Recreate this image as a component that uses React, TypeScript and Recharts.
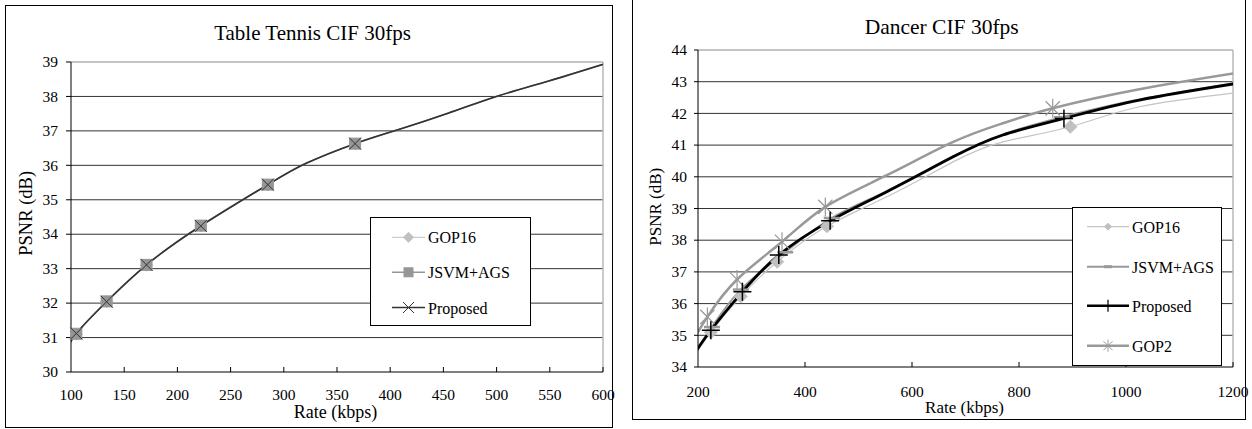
import React from 'react';
import { LineChart, Line, XAxis, YAxis, ReferenceLine } from 'recharts';

// ---------- Table Tennis CIF 30fps ----------
const ttRates = [93, 105, 133.5, 171, 222, 285, 321, 367, 408, 455, 502, 549, 607];
const ttGop16 = [30.49, 31.1, 32.04, 33.1, 34.24, 35.43, 36.06, 36.62, 37.04, 37.52, 38.02, 38.45, 39.0];
const ttJsvm = [30.49, 31.11, 32.05, 33.11, 34.25, 35.44, 36.06, 36.63, 37.04, 37.52, 38.02, 38.45, 39.0];
const ttProposed = [30.49, 31.12, 32.04, 33.11, 34.24, 35.44, 36.06, 36.63, 37.04, 37.52, 38.02, 38.45, 39.0];
const ttMarked = [0, 1, 1, 1, 1, 1, 0, 1, 0, 0, 0, 0, 0];
const ttXTicks = [100, 150, 200, 250, 300, 350, 400, 450, 500, 550, 600];
const ttYTicks = [30, 31, 32, 33, 34, 35, 36, 37, 38, 39];

// ---------- Dancer CIF 30fps ----------
const dcGop16Rates = [183, 224, 280, 348, 441, 553, 677, 770, 896, 1025, 1220];
const dcGop16 = [34.1, 35.1, 36.23, 37.32, 38.44, 39.37, 40.47, 41.1, 41.58, 42.21, 42.68];
const dcGop16Marked = [0, 1, 1, 1, 1, 0, 0, 0, 1, 0, 0];
const dcJsvmRates = [183, 226, 280, 363, 450, 553, 677, 770, 880, 1025, 1220];
const dcJsvm = [34.2, 35.26, 36.44, 37.62, 38.7, 39.55, 40.65, 41.34, 41.88, 42.44, 43.0];
const dcJsvmMarked = [0, 1, 1, 1, 1, 0, 0, 0, 1, 0, 0];
const dcProposedRates = [183, 224, 283, 351, 447, 553, 677, 770, 884, 1025, 1220];
const dcProposed = [34.16, 35.16, 36.37, 37.53, 38.61, 39.53, 40.63, 41.32, 41.84, 42.42, 42.98];
const dcProposedMarked = [0, 1, 1, 1, 1, 0, 0, 0, 1, 0, 0];
const dcGop2Rates = [183, 217.5, 273, 357, 438, 553, 677, 770, 863, 1025, 1220];
const dcGop2 = [34.63, 35.58, 36.76, 37.95, 39.05, 40.05, 41.1, 41.69, 42.16, 42.76, 43.31];
const dcGop2Marked = [0, 1, 1, 1, 1, 0, 0, 0, 1, 0, 0];
const dcXTicks = [200, 400, 600, 800, 1000, 1200];
const dcYTicks = [34, 35, 36, 37, 38, 39, 40, 41, 42, 43, 44];

const FONT = '"Liberation Serif", "Times New Roman", serif';

type Pt = { x: number; y: number; m: number };
const build = (rates: number[], vals: number[], marked: number[]): Pt[] =>
  rates.map((r, i) => ({ x: r, y: vals[i], m: marked[i] }));

type Kind = 'diamond' | 'square' | 'x' | 'plus' | 'star' | 'dash';

function Marker({ kind, cx, cy, s, fill, stroke, sw }: { kind: Kind; cx: number; cy: number; s: number; fill: string; stroke: string; sw: number }) {
  switch (kind) {
    case 'diamond':
      return <polygon points={`${cx},${cy - s} ${cx + s},${cy} ${cx},${cy + s} ${cx - s},${cy}`} fill={fill} stroke={stroke} strokeWidth={sw} />;
    case 'square':
      return <rect x={cx - s} y={cy - s} width={2 * s} height={2 * s} fill={fill} stroke={stroke} strokeWidth={sw} />;
    case 'x':
      return <path d={`M${cx - s},${cy - s}L${cx + s},${cy + s}M${cx - s},${cy + s}L${cx + s},${cy - s}`} stroke={stroke} strokeWidth={sw} fill="none" />;
    case 'plus':
      return <path d={`M${cx - s},${cy}L${cx + s},${cy}M${cx},${cy - s}L${cx},${cy + s}`} stroke={stroke} strokeWidth={sw} fill="none" />;
    case 'star': {
      const d = s * 0.75;
      return <path d={`M${cx - d},${cy - d}L${cx + d},${cy + d}M${cx - d},${cy + d}L${cx + d},${cy - d}M${cx},${cy - s}L${cx},${cy + s}`} stroke={stroke} strokeWidth={sw} fill="none" />;
    }
    case 'dash':
      return <path d={`M${cx - s},${cy}L${cx + s},${cy}`} stroke={stroke} strokeWidth={sw} fill="none" />;
  }
  return null;
}

const dotFn = (kind: Kind, s: number, fill: string, stroke: string, sw: number) => (p: any) =>
  p && p.payload && p.payload.m ? (
    <Marker key={`d${p.index}`} kind={kind} cx={p.cx} cy={p.cy} s={s} fill={fill} stroke={stroke} sw={sw} />
  ) : (
    <g key={`d${p.index}`} />
  );

const BottomTick = (props: any) => {
  const { x, y, payload, fs, dyText, first } = props;
  return (
    <g>
      {!first && <line x1={x} y1={y} x2={x} y2={y - 5} stroke="#000" strokeWidth={1} />}
      <text x={x} y={y + dyText} textAnchor="middle" fontSize={fs} fontFamily={FONT} fill="#000">
        {payload.value}
      </text>
    </g>
  );
};

const LeftTick = (props: any) => {
  const { x, y, payload, fs } = props;
  return (
    <text x={x} y={y + fs * 0.34} textAnchor="end" fontSize={fs} fontFamily={FONT} fill="#000">
      {payload.value}
    </text>
  );
};

function LegendRow({ x1, x2, y, kind, s, color, lineW, markFill, markStroke, markSw, label, fs }: any) {
  const cx = (x1 + x2) / 2;
  return (
    <g>
      <line x1={x1} y1={y} x2={x2} y2={y} stroke={color} strokeWidth={lineW} />
      <Marker kind={kind} cx={cx} cy={y} s={s} fill={markFill} stroke={markStroke} sw={markSw} />
      <text x={x2 + 3} y={y + 6} fontSize={fs} fontFamily={FONT} fill="#000">{label}</text>
    </g>
  );
}

export default function App() {
  const ttG = build(ttRates, ttGop16, ttMarked);
  const ttJ = build(ttRates, ttJsvm, ttMarked);
  const ttP = build(ttRates, ttProposed, ttMarked);

  const dcG16 = build(dcGop16Rates, dcGop16, dcGop16Marked);
  const dcJ = build(dcJsvmRates, dcJsvm, dcJsvmMarked);
  const dcP = build(dcProposedRates, dcProposed, dcProposedMarked);
  const dcG2 = build(dcGop2Rates, dcGop2, dcGop2Marked);

  return (
    <div style={{ position: 'absolute', left: 0, top: 0, width: 1252, height: 429, background: '#fff', fontFamily: FONT, overflow: 'hidden' }}>
      <style>{`.noclip g[clip-path]{clip-path:none !important;} .noclip svg{overflow:visible !important;} .noclip text{font-family:${FONT};}`}</style>

      {/* Left chart */}
      <div className="noclip" style={{ position: 'absolute', left: 5, top: 5 }}>
        <LineChart width={608} height={423} margin={{ top: 57, right: 10, bottom: 0, left: 0 }}>
          <XAxis
            type="number"
            dataKey="x"
            domain={[100, 600]}
            ticks={ttXTicks}
            allowDataOverflow
            height={56}
            axisLine={{ stroke: '#000', strokeWidth: 1 }}
            tickLine={false}
            tickSize={0}
            tickMargin={0}
            interval={0}
            tick={(p: any) => <BottomTick {...p} fs={15.5} dyText={28.2} first={p.payload.value === 100} />}
          />
          <YAxis
            type="number"
            dataKey="y"
            domain={[30, 39]}
            ticks={ttYTicks}
            allowDataOverflow
            width={66}
            axisLine={{ stroke: '#000', strokeWidth: 1 }}
            tickLine={{ stroke: '#000' }}
            tickSize={5}
            tickMargin={8}
            interval={0}
            tick={(p: any) => <LeftTick {...p} fs={15.5} />}
          />
          {ttYTicks.slice(1).map((v, i) => (
            <ReferenceLine key={`g${v}`} y={v} stroke={i === ttYTicks.length - 2 ? '#8a8a8a' : '#333'} strokeWidth={1} />
          ))}
          <ReferenceLine x={600} stroke="#b8b8b8" strokeWidth={1.5} />
          <Line data={ttG} dataKey="y" type="natural" stroke="#c0c0c0" strokeWidth={1} isAnimationActive={false}
            dot={dotFn('diamond', 6, '#c0c0c0', '#c0c0c0', 1)} activeDot={false} />
          <Line data={ttJ} dataKey="y" type="natural" stroke="#969696" strokeWidth={1.5} isAnimationActive={false}
            dot={dotFn('square', 5.5, '#969696', '#969696', 1)} activeDot={false} />
          <Line data={ttP} dataKey="y" type="natural" stroke="#333" strokeWidth={1.6} isAnimationActive={false}
            dot={dotFn('x', 6, 'none', '#333', 1)} activeDot={false} />
        </LineChart>
      </div>

      {/* Right chart */}
      <div className="noclip" style={{ position: 'absolute', left: 633, top: 0 }}>
        <LineChart width={612} height={419} margin={{ top: 50, right: 12, bottom: 0, left: 0 }}>
          <XAxis
            type="number"
            dataKey="x"
            domain={[200, 1200]}
            ticks={dcXTicks}
            allowDataOverflow
            height={52}
            axisLine={{ stroke: '#000', strokeWidth: 1 }}
            tickLine={false}
            tickSize={0}
            tickMargin={0}
            interval={0}
            tick={(p: any) => <BottomTick {...p} fs={15.5} dyText={30.3} first={p.payload.value === 200} />}
          />
          <YAxis
            type="number"
            dataKey="y"
            domain={[34, 44]}
            ticks={dcYTicks}
            allowDataOverflow
            width={65}
            axisLine={{ stroke: '#000', strokeWidth: 1 }}
            tickLine={{ stroke: '#000' }}
            tickSize={4}
            tickMargin={7}
            interval={0}
            tick={(p: any) => <LeftTick {...p} fs={15.5} />}
          />
          {dcYTicks.slice(1).map((v, i) => (
            <ReferenceLine key={`g${v}`} y={v} stroke={i === dcYTicks.length - 2 ? '#8a8a8a' : '#333'} strokeWidth={1} />
          ))}
          <ReferenceLine x={1200} stroke="#b8b8b8" strokeWidth={1.5} />
          <Line data={dcG16} dataKey="y" type="natural" stroke="#c4c4c4" strokeWidth={1.2} isAnimationActive={false}
            dot={dotFn('diamond', 6.5, '#c0c0c0', '#c0c0c0', 1)} activeDot={false} />
          <Line data={dcJ} dataKey="y" type="natural" stroke="#999" strokeWidth={2} isAnimationActive={false}
            dot={dotFn('dash', 8, '#999', '#999', 2.5)} activeDot={false} />
          <Line data={dcG2} dataKey="y" type="natural" stroke="#999" strokeWidth={2.5} isAnimationActive={false}
            dot={dotFn('star', 9.5, 'none', '#999', 1.2)} activeDot={false} />
          <Line data={dcP} dataKey="y" type="natural" stroke="#000" strokeWidth={2.8} isAnimationActive={false}
            dot={dotFn('plus', 9, 'none', '#000', 1.5)} activeDot={false} />
        </LineChart>
      </div>

      {/* Overlay: frames, titles, axis titles, legends */}
      <svg width={1252} height={429} style={{ position: 'absolute', left: 0, top: 0, pointerEvents: 'none' }}>
        <rect x={5.5} y={5.5} width={607} height={422} fill="none" stroke="#000" strokeWidth={1} />
        <line x1={632.5} y1={0} x2={632.5} y2={420} stroke="#000" strokeWidth={1} />
        <line x1={1245.5} y1={0} x2={1245.5} y2={420} stroke="#000" strokeWidth={1} />
        <line x1={632.5} y1={419.5} x2={1245.5} y2={419.5} stroke="#000" strokeWidth={1} />

        <text x={312.5} y={40} textAnchor="middle" fontSize={21} fontFamily={FONT}>Table Tennis CIF 30fps</text>
        <text x={941.7} y={34} textAnchor="middle" fontSize={21.5} fontFamily={FONT}>Dancer CIF 30fps</text>

        <text x={335.5} y={417.5} textAnchor="middle" fontSize={18} fontFamily={FONT}>Rate (kbps)</text>
        <text x={964.5} y={413} textAnchor="middle" fontSize={17} fontFamily={FONT}>Rate (kbps)</text>

        <text x={0} y={0} transform="translate(32,213.3) rotate(-90)" textAnchor="middle" fontSize={18.5} fontFamily={FONT}>PSNR (dB)</text>
        <text x={0} y={0} transform="translate(661,206.7) rotate(-90)" textAnchor="middle" fontSize={17} fontFamily={FONT}>PSNR (dB)</text>

        {/* Left legend */}
        <rect x={370.5} y={217.5} width={160} height={108} fill="#fff" stroke="#000" strokeWidth={1} />
        <LegendRow x1={392} x2={425} y={237.3} kind="diamond" s={5} color="#c0c0c0" lineW={1} markFill="#c0c0c0" markStroke="#c0c0c0" markSw={1} label="GOP16" fs={16} />
        <LegendRow x1={392} x2={425} y={272.3} kind="square" s={4.5} color="#969696" lineW={1.5} markFill="#969696" markStroke="#969696" markSw={1} label="JSVM+AGS" fs={16} />
        <LegendRow x1={392} x2={425} y={307.5} kind="x" s={5.5} color="#333" lineW={1.5} markFill="none" markStroke="#333" markSw={1} label="Proposed" fs={16} />

        {/* Right legend */}
        <rect x={1072.5} y={207.5} width={149} height={158} fill="#fff" stroke="#000" strokeWidth={1} />
        <LegendRow x1={1087} x2={1129} y={226.7} kind="diamond" s={3.5} color="#c4c4c4" lineW={1.2} markFill="#c0c0c0" markStroke="#c0c0c0" markSw={1} label="GOP16" fs={16} />
        <LegendRow x1={1087} x2={1129} y={266.7} kind="dash" s={4} color="#999" lineW={2} markFill="#999" markStroke="#999" markSw={3} label="JSVM+AGS" fs={16} />
        <LegendRow x1={1087} x2={1129} y={305.7} kind="plus" s={6} color="#000" lineW={2.5} markFill="none" markStroke="#000" markSw={1.2} label="Proposed" fs={16} />
        <LegendRow x1={1087} x2={1129} y={345.7} kind="star" s={6} color="#999" lineW={2.5} markFill="none" markStroke="#999" markSw={1} label="GOP2" fs={16} />
      </svg>
    </div>
  );
}
